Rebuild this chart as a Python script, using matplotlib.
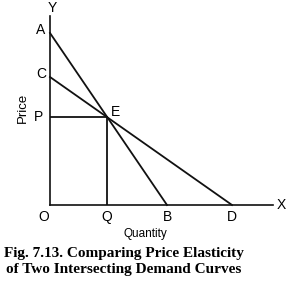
import matplotlib
matplotlib.use("Agg")
import matplotlib.pyplot as plt

# Data (quantity / price units)
curve1_x = [0, 117]      # A -> B
curve1_y = [172, 0]
curve2_x = [0, 182]      # C -> D
curve2_y = [128, 0]
E_point = (57, 88)
axis_x_max = 223
axis_y_max = 189
x_labels = ["O", "Q", "B", "D"]
x_label_pos = [0, 57, 117, 182]
y_labels = ["A", "C", "P"]
y_label_pos = [172, 128, 88]

W, H = 289, 281
fig = plt.figure(figsize=(W / 100, H / 100), dpi=100)
ax = fig.add_axes([50 / W, 76 / H, (273 - 50) / W, (205 - 16) / H])
ax.set_xlim(0, axis_x_max)
ax.set_ylim(0, axis_y_max)
for s in ["top", "right"]:
    ax.spines[s].set_visible(False)
for s in ["left", "bottom"]:
    ax.spines[s].set_linewidth(1.2)
    ax.spines[s].set_color("#111111")
ax.set_xticks([])
ax.set_yticks([])

lc = "#111111"
lw = 1.3
ax.plot(curve1_x, curve1_y, color=lc, lw=lw, clip_on=False)
ax.plot(curve2_x, curve2_y, color=lc, lw=lw, clip_on=False)
ax.plot([0, E_point[0]], [E_point[1], E_point[1]], color=lc, lw=lw)
ax.plot([E_point[0], E_point[0]], [0, E_point[1]], color=lc, lw=lw)

sans = "Liberation Sans"
fs = 10
for lab, xp in zip(x_labels, x_label_pos):
    dx = -6 if lab == "O" else 0
    ax.annotate(lab, (xp, 0), xytext=(dx, -12), textcoords="offset pixels",
                ha="center", va="center", fontsize=fs, family=sans, annotation_clip=False)
for lab, yp in zip(y_labels, y_label_pos):
    ax.annotate(lab, (0, yp), xytext=(-9 if lab != "P" else -11, 3 if lab != "P" else 0),
                textcoords="offset pixels", ha="center", va="center",
                fontsize=fs, family=sans, annotation_clip=False)
ax.annotate("E", E_point, xytext=(8, 5), textcoords="offset pixels",
            ha="center", va="center", fontsize=fs, family=sans, annotation_clip=False)
ax.annotate("Y", (0, axis_y_max), xytext=(2, 8), textcoords="offset pixels",
            ha="center", va="center", fontsize=fs, family=sans, annotation_clip=False)
ax.annotate("X", (axis_x_max, 0), xytext=(8, 0), textcoords="offset pixels",
            ha="center", va="center", fontsize=fs, family=sans, annotation_clip=False)

fig.text(145 / W, 1 - 234 / H, "Quantity", ha="center", va="center",
         fontsize=8.5, family=sans)
fig.text(23 / W, 1 - 108 / H, "Price", ha="center", va="center",
         fontsize=9.5, family=sans, rotation=90)

serif = "Liberation Serif"
fig.text(124 / W, 1 - 253 / H, r"Fig. 7.13. Comparing Price Elasticity",
         ha="center", va="center", fontsize=11, family=serif, fontweight="bold")
fig.text(124 / W, 1 - 269 / H, "of Two Intersecting Demand Curves",
         ha="center", va="center", fontsize=11, family=serif, fontweight="bold")

fig.savefig("out.png", dpi=100)
